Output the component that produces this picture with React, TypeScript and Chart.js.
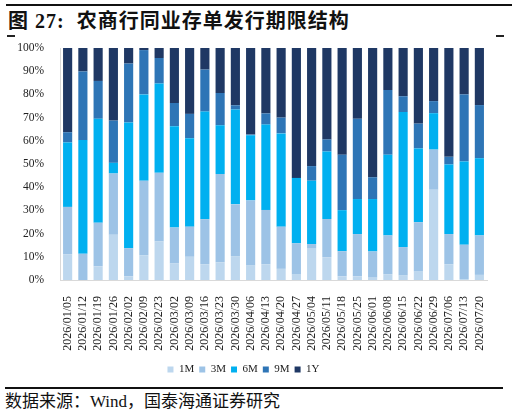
import React, { useEffect, useRef } from "react";
import { Chart, registerables } from "chart.js";

Chart.register(...registerables);

const categories = [
  "2026/01/05", "2026/01/12", "2026/01/19", "2026/01/26", "2026/02/02", "2026/02/09", "2026/02/23",
  "2026/03/02", "2026/03/09", "2026/03/16", "2026/03/23", "2026/03/30", "2026/04/06", "2026/04/13",
  "2026/04/20", "2026/04/27", "2026/05/04", "2026/05/11", "2026/05/18", "2026/05/25", "2026/06/01",
  "2026/06/08", "2026/06/15", "2026/06/22", "2026/06/29", "2026/07/06", "2026/07/13", "2026/07/20",
];

const m1 = [11, 0, 5.9, 19.5, 1.6, 10.7, 16.6, 7.1, 10, 6.8, 7.5, 10.3, 6.2, 6.8, 4.8, 2.3, 13.5, 9.8, 1.6, 1.6, 1, 2.5, 1.9, 3.6, 38.9, 6.8, 0.4, 2.2];
const m3 = [20.5, 11.3, 18.8, 26.4, 12.1, 32.1, 29.6, 15.5, 13, 19.4, 38.2, 22.3, 28.1, 23.4, 18.2, 13.5, 2, 16.5, 10.8, 18.2, 11.3, 16.7, 12.3, 21.3, 17.3, 13, 14.8, 17];
const m6 = [27.8, 49, 44.8, 4.6, 54.2, 37.2, 38.5, 43.7, 38.1, 46.4, 21, 40.9, 28.1, 36.8, 40.2, 28.2, 27.3, 29.1, 17.7, 15.1, 22.6, 34.8, 58.2, 31.8, 15.7, 30, 35.9, 33.3];
const m9 = [4.4, 29.6, 16.3, 18.2, 25.4, 19.1, 11, 10, 10.5, 18.1, 13.9, 1.8, 0.3, 4.8, 6.8, 0, 6.3, 5.2, 23.9, 34.6, 9.4, 27.9, 6.8, 10.7, 5.2, 3.3, 28.9, 22.9];
const y1 = [36.3, 10.1, 14.2, 31.3, 6.7, 0.9, 4.3, 23.7, 28.4, 9.3, 19.4, 24.7, 37.3, 28.2, 30, 56, 50.9, 39.4, 46, 30.5, 55.7, 18.1, 20.8, 32.6, 22.9, 46.9, 20, 24.6];

const seriesNames = ["1M", "3M", "6M", "9M", "1Y"];
const seriesColors = ["#BDD7EE", "#9DC3E6", "#00B0F0", "#2E75B6", "#1F3864"];
const seriesData = [m1, m3, m6, m9, y1];

const serif = "'Liberation Serif', 'Times New Roman', serif";

export default function App() {
  const ref = useRef<HTMLCanvasElement | null>(null);

  useEffect(() => {
    document.body.style.margin = "0";
    const canvas = ref.current;
    if (!canvas) return;
    const chart = new Chart(canvas, {
      type: "bar",
      data: {
        labels: categories,
        datasets: seriesNames.map((name, i) => ({
          label: name,
          data: seriesData[i],
          backgroundColor: seriesColors[i],
          borderWidth: 0,
          barPercentage: 0.6,
          categoryPercentage: 1,
        })),
      },
      options: {
        animation: false,
        responsive: false,
        maintainAspectRatio: false,
        layout: { padding: { left: 0, right: 25, top: 48, bottom: 0 } },
        plugins: {
          legend: {
            position: "bottom",
            labels: {
              boxWidth: 6,
              boxHeight: 6,
              padding: 5,
              color: "#222",
              font: { family: serif, size: 11 },
            },
          },
          tooltip: { enabled: false },
        },
        scales: {
          x: {
            stacked: true,
            grid: { display: false },
            border: { display: true, color: "#d9d9d9", width: 1 },
            ticks: {
              autoSkip: false,
              maxRotation: 90,
              minRotation: 90,
              padding: 8,
              color: "#222",
              font: { family: serif, size: 12 },
            },
            afterFit: (s: any) => {
              s.height = 79;
            },
          },
          y: {
            stacked: true,
            min: 0,
            max: 100,
            grid: { display: false },
            border: { display: true, color: "#d9d9d9", width: 1 },
            ticks: {
              stepSize: 10,
              padding: 8,
              color: "#222",
              font: { family: serif, size: 11.5 },
              callback: (v: any) => v + "%",
            },
            afterFit: (s: any) => {
              s.width = 60;
            },
          },
        },
      },
    });
    return () => chart.destroy();
  }, []);

  return (
    <div style={{ position: "relative", width: 512, height: 414, background: "#fff", overflow: "hidden" }}>
      <div style={{ position: "absolute", left: 6, right: 0, top: 4, height: 2, background: "#111" }} />
      <div
        style={{
          position: "absolute",
          left: 8,
          top: 8,
          fontFamily: "'Liberation Serif', 'Noto Sans CJK SC', serif",
          fontWeight: "bold",
          fontSize: 20,
          letterSpacing: 1,
          color: "#111",
          whiteSpace: "nowrap",
          lineHeight: "24px",
        }}
      >
        <span style={{ fontFamily: "'Noto Sans CJK SC'" }}>图</span> 27:&nbsp;&nbsp;
        <span style={{ fontFamily: "'Noto Sans CJK SC'" }}>农商行同业存单发行期限结构</span>
      </div>
      <div style={{ position: "absolute", left: 7, top: 35, width: 8, height: 1.5, background: "#222" }} />
      <div style={{ position: "absolute", left: 496, top: 35, width: 8, height: 1.5, background: "#222" }} />
      <canvas ref={ref} width={512} height={385} style={{ position: "absolute", left: 0, top: 0, width: 512, height: 385 }} />
      <div style={{ position: "absolute", left: 5, width: 498, top: 387, height: 1.5, background: "#111" }} />
      <div
        style={{
          position: "absolute",
          left: 5,
          top: 389,
          fontFamily: "'Liberation Serif', 'Noto Sans CJK SC', serif",
          fontSize: 17,
          color: "#111",
          whiteSpace: "nowrap",
          lineHeight: "21px",
        }}
      >
        <span style={{ fontFamily: "'Noto Sans CJK SC'" }}>数据来源：</span>Wind
        <span style={{ fontFamily: "'Noto Sans CJK SC'" }}>，国泰海通证券研究</span>
      </div>
    </div>
  );
}
